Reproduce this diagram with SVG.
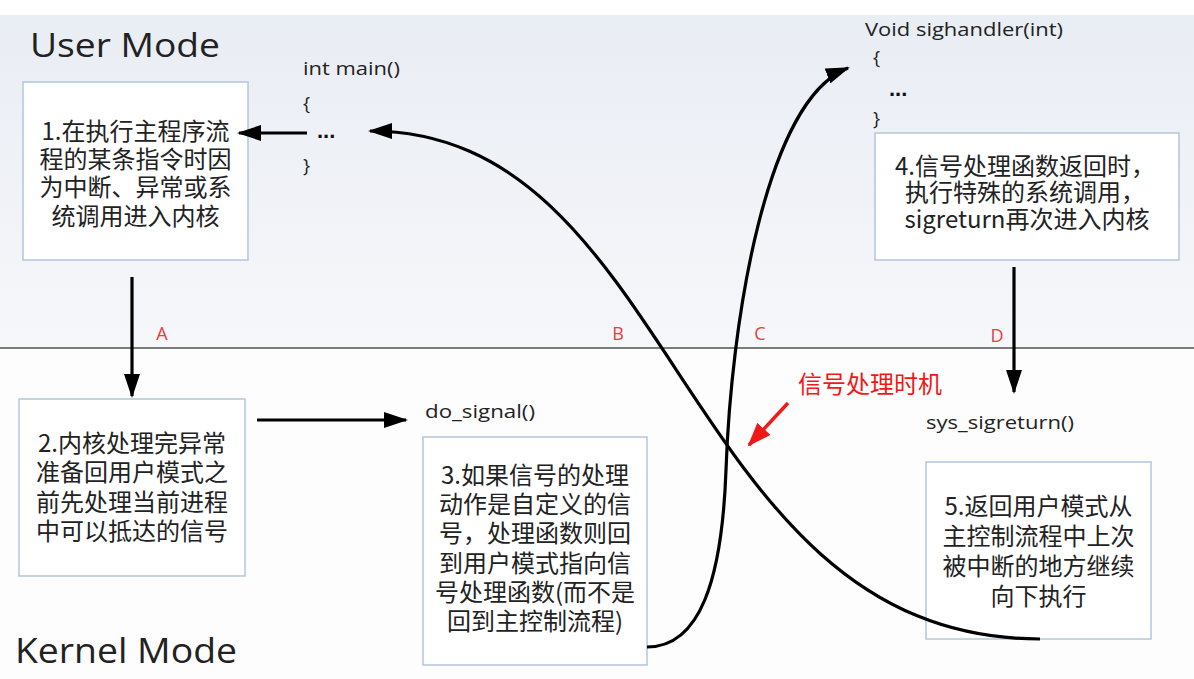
<svg xmlns="http://www.w3.org/2000/svg" width="1194" height="679" viewBox="0 0 1194 679">
<style>
.box{fill:#ffffff;stroke:#b3c5dc;stroke-width:1.5}
.cjk{font-family:"Noto Sans CJK SC","Noto Sans",sans-serif;font-size:24px;fill:#222;text-anchor:middle}
.code{font-family:"Open Sans","Liberation Sans",sans-serif;font-size:19px;fill:#222}
.dots{font-family:"Liberation Sans",sans-serif;font-size:22px;font-weight:bold;fill:#111}
.mode{font-family:"Open Sans","Liberation Sans",sans-serif;fill:#222}
.lbl{font-family:"Open Sans","Liberation Sans",sans-serif;font-size:18px;fill:#ee3b3b;text-anchor:middle}
.con{fill:none;stroke:#000;stroke-width:3.2}
</style>
<defs>
<linearGradient id="bg" x1="0" y1="0" x2="0" y2="1">
<stop offset="0" stop-color="#e9edf4"/>
<stop offset="1" stop-color="#f6f7fa"/>
</linearGradient>
<marker id="ah" markerUnits="userSpaceOnUse" markerWidth="24" markerHeight="16" viewBox="0 0 24 16" refX="22" refY="8" orient="auto">
<path d="M0,0 L24,8 L0,16 z" fill="#000"/>
</marker>
<marker id="ahr" markerUnits="userSpaceOnUse" markerWidth="24" markerHeight="18" viewBox="0 0 24 18" refX="22" refY="9" orient="auto">
<path d="M0,0 L24,9 L0,18 z" fill="#f01818"/>
</marker>
</defs>
<rect x="0" y="0" width="1194" height="679" fill="#ffffff"/>
<rect x="0" y="15" width="1194" height="333" fill="url(#bg)"/>
<rect x="0" y="349" width="1194" height="330" fill="#fdfdfd"/>
<line x1="0" y1="348" x2="1194" y2="348" stroke="#7b7b7b" stroke-width="2"/>

<g id="mode-labels">
<text class="mode" x="30" y="57" font-size="33" textLength="190" lengthAdjust="spacingAndGlyphs">User Mode</text>
<text class="mode" x="15" y="663" font-size="35" textLength="222" lengthAdjust="spacingAndGlyphs">Kernel Mode</text>
</g>

<g id="code-main">
<text class="code" x="303" y="75" textLength="97" lengthAdjust="spacingAndGlyphs">int main()</text>
<text class="code" x="303" y="110">{</text>
<text class="dots" x="317" y="138">...</text>
<text class="code" x="303" y="172">}</text>
</g>

<g id="code-handler">
<text class="code" x="865" y="36" textLength="198" lengthAdjust="spacingAndGlyphs">Void sighandler(int)</text>
<text class="code" x="873" y="64">{</text>
<text class="dots" x="889" y="96">...</text>
<text class="code" x="873" y="125">}</text>
</g>

<g id="box1">
<rect class="box" x="23" y="82" width="225" height="178"/>
<text class="cjk"><tspan x="135.5" y="140">1.在执行主程序流</tspan><tspan x="135.5" y="168">程的某条指令时因</tspan><tspan x="135.5" y="196">为中断、异常或系</tspan><tspan x="135.5" y="225">统调用进入内核</tspan></text>
</g>

<g id="box4">
<rect class="box" x="875" y="133" width="304" height="127"/>
<text class="cjk" font-size="23"><tspan x="1025" y="175">4.信号处理函数返回时，</tspan><tspan x="1025" y="201">执行特殊的系统调用，</tspan><tspan x="1027" y="228">sigreturn再次进入内核</tspan></text>
</g>

<g id="box2">
<rect class="box" x="19" y="399" width="226" height="177"/>
<text class="cjk"><tspan x="132" y="452">2.内核处理完异常</tspan><tspan x="132" y="481">准备回用户模式之</tspan><tspan x="132" y="511">前先处理当前进程</tspan><tspan x="132" y="540">中可以抵达的信号</tspan></text>
</g>

<g id="do-signal">
<text class="code" x="425" y="418" font-size="20" textLength="110" lengthAdjust="spacingAndGlyphs">do_signal()</text>
</g>

<g id="box3">
<rect class="box" x="423" y="437" width="224" height="228"/>
<text class="cjk"><tspan x="535" y="484">3.如果信号的处理</tspan><tspan x="535" y="513">动作是自定义的信</tspan><tspan x="535" y="542">号，处理函数则回</tspan><tspan x="535" y="572">到用户模式指向信</tspan><tspan x="535" y="601">号处理函数(而不是</tspan><tspan x="535" y="630">回到主控制流程)</tspan></text>
</g>

<g id="sys-sigreturn">
<text class="code" x="926" y="429" font-size="20" textLength="148" lengthAdjust="spacingAndGlyphs">sys_sigreturn()</text>
</g>

<g id="box5">
<rect class="box" x="926" y="462" width="225" height="177"/>
<text class="cjk"><tspan x="1038.5" y="515">5.返回用户模式从</tspan><tspan x="1038.5" y="545">主控制流程中上次</tspan><tspan x="1038.5" y="575">被中断的地方继续</tspan><tspan x="1038.5" y="605">向下执行</tspan></text>
</g>

<g id="timing-note">
<text x="798" y="393" font-family="Noto Sans CJK SC, sans-serif" font-size="24" fill="#f01818">信号处理时机</text>
</g>

<g id="connectors">
<line class="con" x1="307" y1="133" x2="239" y2="133" marker-end="url(#ah)"/>
<line class="con" x1="132" y1="277" x2="132" y2="396" marker-end="url(#ah)"/>
<line class="con" x1="257" y1="420" x2="406" y2="420" marker-end="url(#ah)"/>
<line class="con" x1="1014" y1="267" x2="1014" y2="392" marker-end="url(#ah)"/>
<path class="con" d="M1040,639 C680,639 680,131 370,131" marker-end="url(#ah)"/>
<path class="con" d="M647,647 C700,647 722,580 726,470 C731,325 765,100 848,68" marker-end="url(#ah)"/>
<line x1="788" y1="403" x2="749" y2="445" stroke="#f01818" stroke-width="3.5" marker-end="url(#ahr)"/>
<text class="lbl" x="162" y="340">A</text>
<text class="lbl" x="618" y="340">B</text>
<text class="lbl" x="760" y="340">C</text>
<text class="lbl" x="997" y="342">D</text>
</g>
</svg>
